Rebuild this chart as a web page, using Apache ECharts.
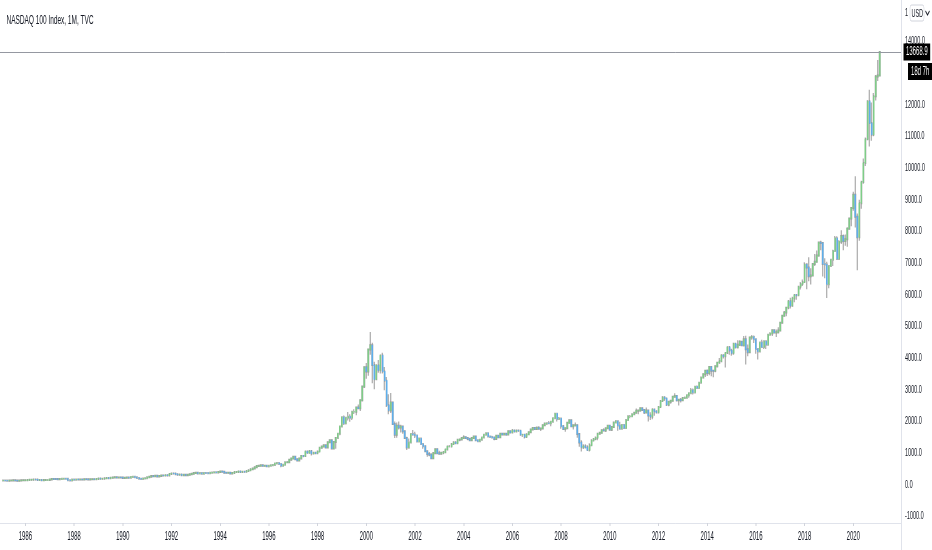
<!DOCTYPE html>
<html>
<head>
    <meta charset="utf-8">
    <title>NASDAQ 100 Index, 1M, TVC</title>
    <script src="https://cdn.jsdelivr.net/npm/echarts@6/dist/echarts.min.js"></script>
    <style>
        html, body { margin: 0; padding: 0; background: #fff; overflow: hidden; }
        /* the reference screenshot is squeezed horizontally, so draw wide and squeeze */
        #main { width: 1864px; height: 550px; transform: scaleX(0.5); transform-origin: 0 0; }
    </style>
</head>
<body>
    <div id="main"></div>
    <script type="text/javascript">
        var firstMonth = '1985-02';

        // monthly bars, one row per year (1985 starts in Feb, 2021 ends in Feb)
        var opens = [
            125, 127, 123, 122, 128, 129, 131, 127, 118, 124, 131,
            132, 133, 141, 147, 151, 157, 155, 141, 145, 133, 140, 141,
            141, 161, 176, 175, 172, 170, 172, 179, 185, 183, 137, 128,
            156, 151, 161, 158, 160, 156, 169, 164, 158, 165, 167, 164,
            177, 188, 183, 185, 194, 207, 199, 215, 224, 228, 218, 225,
            224, 207, 211, 221, 215, 240, 243, 230, 207, 185, 177, 192,
            201, 226, 248, 265, 263, 274, 256, 272, 286, 284, 295, 288,
            331, 349, 346, 323, 312, 315, 296, 306, 296, 307, 321, 343,
            360, 370, 349, 361, 341, 365, 363, 355, 372, 378, 388, 379,
            398, 412, 406, 375, 370, 372, 351, 366, 393, 394, 415, 399,
            404, 401, 429, 449, 484, 507, 546, 588, 590, 606, 590, 594,
            576, 595, 612, 618, 667, 680, 650, 590, 622, 700, 705, 780,
            821, 876, 798, 761, 825, 904, 898, 1040, 1000, 1055, 979, 1005,
            991, 1044, 1164, 1199, 1237, 1172, 1337, 1396, 1140, 1345, 1472, 1604,
            1836, 2128, 1932, 2106, 2142, 2109, 2296, 2296, 2436, 2407, 2660, 3095,
            3708, 3570, 4267, 4398, 3774, 3324, 3764, 3610, 4078, 3571, 3282, 2507,
            2342, 2593, 1908, 1574, 1855, 1800, 1831, 1684, 1469, 1169, 1330, 1596,
            1577, 1550, 1359, 1452, 1277, 1208, 1051, 963, 942, 832, 990, 1116,
            984, 974, 1005, 1018, 1106, 1201, 1201, 1279, 1332, 1303, 1416, 1425,
            1468, 1493, 1468, 1438, 1400, 1468, 1517, 1400, 1368, 1413, 1485, 1574,
            1621, 1519, 1503, 1483, 1441, 1542, 1494, 1605, 1581, 1601, 1579, 1682,
            1645, 1710, 1675, 1703, 1700, 1575, 1575, 1504, 1586, 1654, 1741, 1787,
            1757, 1790, 1758, 1772, 1875, 1926, 1934, 1932, 1986, 2092, 2239, 2069,
            2085, 1841, 1752, 1781, 1949, 2028, 1837, 1870, 1873, 1594, 1329, 1178,
            1212, 1175, 1087, 1237, 1394, 1441, 1477, 1606, 1632, 1718, 1707, 1774,
            1860, 1733, 1816, 1957, 2000, 1863, 1764, 1884, 1782, 2035, 2155, 2155,
            2218, 2265, 2331, 2338, 2409, 2356, 2273, 2339, 2179, 2143, 2370, 2315,
            2278, 2452, 2640, 2755, 2721, 2520, 2616, 2647, 2772, 2799, 2661, 2677,
            2661, 2731, 2738, 2819, 2887, 2981, 2910, 3091, 3049, 3218, 3378, 3487,
            3592, 3523, 3715, 3596, 3593, 3736, 3850, 3896, 4082, 4050, 4158, 4337,
            4236, 4151, 4450, 4334, 4415, 4509, 4397, 4589, 4274, 4182, 4648, 4664,
            4593, 4280, 4202, 4483, 4341, 4523, 4418, 4731, 4772, 4875, 4801, 4811,
            4864, 5114, 5330, 5436, 5584, 5788, 5647, 5880, 5988, 5979, 6248, 6337,
            6396, 6950, 6854, 6581, 6605, 6967, 7040, 7237, 7646, 7628, 6968, 6949,
            6330, 6906, 7099, 7378, 7781, 7127, 7672, 7848, 7692, 7750, 8084, 8403,
            8733, 9151, 8462, 7813, 8890, 9555, 10157, 10906, 12110, 11418, 11053, 12268,
            12888, 12925
        ];
        var highs = [
            129, 129, 125, 129, 131, 133, 133, 128, 125, 132, 135,
            137, 142, 149, 155, 158, 160, 156, 147, 147, 141, 144, 145,
            162, 178, 182, 180, 176, 175, 181, 188, 189, 187, 142, 158,
            160, 162, 166, 163, 162, 170, 171, 167, 166, 172, 169, 178,
            189, 191, 188, 195, 209, 210, 216, 227, 230, 232, 226, 231,
            226, 213, 224, 225, 241, 249, 248, 232, 209, 188, 194, 204,
            227, 252, 268, 275, 277, 276, 274, 288, 290, 300, 301, 333,
            357, 358, 350, 326, 322, 318, 310, 308, 310, 322, 344, 364,
            372, 375, 364, 362, 366, 370, 364, 373, 381, 393, 390, 400,
            413, 417, 409, 379, 376, 374, 369, 394, 401, 418, 418, 408,
            407, 430, 451, 485, 512, 550, 598, 599, 618, 610, 606, 605,
            598, 625, 630, 670, 690, 682, 654, 634, 702, 720, 783, 847,
            890, 880, 810, 830, 910, 920, 1045, 1050, 1075, 1080, 1025, 1030,
            1060, 1170, 1215, 1240, 1240, 1340, 1420, 1400, 1350, 1480, 1620, 1840,
            2150, 2180, 2140, 2290, 2220, 2300, 2380, 2440, 2530, 2665, 3100, 3710,
            3840, 4290, 4816, 4480, 3880, 3800, 3930, 4090, 4160, 3710, 3400, 2850,
            2890, 2600, 1990, 1960, 1990, 1890, 1860, 1700, 1510, 1450, 1600, 1720,
            1670, 1560, 1480, 1460, 1310, 1220, 1070, 1030, 985, 1025, 1125, 1130,
            1070, 1020, 1060, 1110, 1210, 1250, 1290, 1345, 1370, 1420, 1440, 1470,
            1560, 1510, 1480, 1480, 1480, 1520, 1520, 1410, 1430, 1490, 1580, 1630,
            1625, 1550, 1540, 1500, 1550, 1570, 1610, 1620, 1620, 1620, 1690, 1710,
            1750, 1720, 1720, 1740, 1710, 1600, 1580, 1590, 1660, 1750, 1790, 1820,
            1830, 1840, 1790, 1880, 1930, 1950, 2010, 1990, 2100, 2240, 2245, 2130,
            2090, 1880, 1800, 1960, 2050, 2040, 1900, 1960, 1880, 1600, 1400, 1270,
            1270, 1240, 1300, 1430, 1470, 1520, 1610, 1650, 1740, 1780, 1790, 1870,
            1890, 1830, 1960, 2040, 2030, 1980, 1890, 1910, 2040, 2170, 2200, 2220,
            2300, 2400, 2340, 2420, 2430, 2370, 2430, 2340, 2280, 2410, 2390, 2350,
            2460, 2650, 2790, 2790, 2740, 2630, 2680, 2780, 2880, 2810, 2700, 2730,
            2760, 2780, 2830, 2890, 3050, 3030, 3100, 3130, 3240, 3380, 3500, 3600,
            3630, 3720, 3740, 3620, 3740, 3860, 4000, 4090, 4110, 4170, 4340, 4380,
            4290, 4460, 4470, 4560, 4560, 4530, 4690, 4700, 4420, 4680, 4720, 4710,
            4600, 4300, 4490, 4570, 4530, 4550, 4740, 4810, 4900, 4890, 4900, 4970,
            5120, 5340, 5480, 5600, 5830, 5900, 5930, 6010, 6000, 6250, 6400, 6480,
            7020, 6990, 7180, 6830, 6980, 7280, 7390, 7650, 7700, 7660, 7150, 7040,
            6920, 7130, 7420, 7850, 7840, 7720, 8030, 7900, 7900, 8130, 8430, 8740,
            9250, 9740, 8560, 9000, 9600, 10300, 10960, 12140, 12470, 12070, 12370, 12940,
            13410, 13690
        ];
        var lows = [
            122, 122, 118, 119, 124, 126, 125, 116, 115, 121, 127,
            127, 131, 139, 144, 145, 150, 134, 137, 130, 131, 136, 136,
            140, 159, 169, 163, 164, 166, 169, 176, 175, 120, 124, 125,
            145, 149, 155, 153, 151, 155, 161, 155, 156, 163, 160, 163,
            175, 182, 178, 184, 193, 196, 198, 212, 221, 205, 214, 219,
            203, 202, 210, 211, 213, 234, 227, 202, 183, 168, 175, 189,
            196, 223, 244, 256, 260, 254, 254, 265, 276, 278, 281, 283,
            327, 338, 318, 300, 308, 290, 288, 294, 292, 296, 319, 338,
            354, 339, 343, 333, 337, 350, 346, 352, 363, 374, 369, 375,
            394, 400, 371, 354, 354, 349, 348, 363, 384, 386, 395, 390,
            391, 400, 425, 447, 475, 504, 542, 570, 581, 574, 582, 565,
            540, 590, 590, 600, 650, 640, 546, 585, 610, 675, 700, 778,
            810, 785, 740, 735, 820, 860, 890, 990, 990, 920, 950, 960,
            960, 1040, 1140, 1180, 1160, 1140, 1320, 1110, 1120, 1130, 1450, 1560,
            1800, 1880, 1900, 2020, 1980, 2040, 2230, 2190, 2380, 2320, 2620, 3050,
            3340, 3440, 4100, 3200, 3010, 3300, 3530, 3510, 3510, 2980, 2450, 2220,
            2260, 1900, 1470, 1480, 1740, 1640, 1600, 1450, 1090, 1130, 1310, 1540,
            1470, 1340, 1350, 1270, 1130, 1030, 880, 890, 830, 795, 980, 955,
            960, 950, 960, 1010, 1100, 1170, 1190, 1250, 1290, 1300, 1370, 1400,
            1450, 1450, 1400, 1400, 1380, 1440, 1390, 1340, 1360, 1390, 1470, 1560,
            1500, 1490, 1460, 1400, 1430, 1490, 1490, 1560, 1560, 1540, 1570, 1640,
            1640, 1650, 1660, 1680, 1550, 1500, 1450, 1490, 1570, 1640, 1730, 1730,
            1750, 1740, 1690, 1760, 1860, 1880, 1910, 1840, 1950, 2090, 1990, 2040,
            1760, 1740, 1670, 1760, 1920, 1830, 1740, 1830, 1480, 1190, 1040, 1120,
            1140, 1080, 1040, 1220, 1370, 1400, 1400, 1580, 1600, 1680, 1660, 1760,
            1730, 1690, 1810, 1940, 1700, 1760, 1760, 1760, 1770, 2030, 2090, 2150,
            2210, 2260, 2220, 2300, 2330, 2230, 2270, 1990, 2040, 2060, 2170, 2240,
            2270, 2440, 2610, 2640, 2480, 2470, 2550, 2640, 2760, 2620, 2500, 2590,
            2655, 2700, 2730, 2740, 2870, 2840, 2900, 3040, 3040, 3200, 3360, 3400,
            3430, 3450, 3420, 3390, 3550, 3700, 3840, 3880, 3980, 3700, 4120, 4100,
            4070, 4100, 4300, 4300, 4380, 4390, 4360, 3790, 4050, 4170, 4570, 4470,
            4130, 3950, 4200, 4320, 4280, 4280, 4400, 4720, 4690, 4780, 4660, 4770,
            4860, 5080, 5310, 5320, 5540, 5560, 5630, 5760, 5840, 5970, 6160, 6270,
            6380, 6170, 6420, 6320, 6570, 6900, 7010, 7200, 7400, 6570, 6520, 5896,
            6200, 6900, 6900, 7360, 7120, 7100, 7600, 7400, 7540, 7510, 8080, 8160,
            8650, 8120, 6771, 7700, 8710, 9500, 10060, 10880, 10680, 10860, 11000, 12130,
            12750, 12900
        ];
        var closes = [
            127, 123, 122, 128, 129, 131, 127, 118, 124, 131, 132,
            133, 141, 147, 151, 157, 155, 141, 145, 133, 140, 141, 141,
            161, 176, 175, 172, 170, 172, 179, 185, 183, 137, 128, 156,
            151, 161, 158, 160, 156, 169, 164, 158, 165, 167, 164, 177,
            188, 183, 185, 194, 207, 199, 215, 224, 228, 218, 225, 224,
            207, 211, 221, 215, 240, 243, 230, 207, 185, 177, 192, 201,
            226, 248, 265, 263, 274, 256, 272, 286, 284, 295, 288, 331,
            349, 346, 323, 312, 315, 296, 306, 296, 307, 321, 343, 360,
            370, 349, 361, 341, 365, 363, 355, 372, 378, 388, 379, 398,
            412, 406, 375, 370, 372, 351, 366, 393, 394, 415, 399, 404,
            401, 429, 449, 484, 507, 546, 588, 590, 606, 590, 594, 576,
            595, 612, 618, 667, 680, 650, 590, 622, 700, 705, 780, 821,
            876, 798, 761, 825, 904, 898, 1040, 1000, 1055, 979, 1005, 991,
            1044, 1164, 1199, 1237, 1172, 1337, 1396, 1140, 1345, 1472, 1604, 1836,
            2128, 1932, 2106, 2142, 2109, 2296, 2296, 2436, 2407, 2660, 3095, 3708,
            3570, 4267, 4398, 3774, 3324, 3764, 3610, 4078, 3571, 3282, 2507, 2342,
            2593, 1908, 1574, 1855, 1800, 1831, 1684, 1469, 1169, 1330, 1596, 1577,
            1550, 1359, 1452, 1277, 1208, 1051, 963, 942, 832, 990, 1116, 984,
            974, 1005, 1018, 1106, 1201, 1201, 1279, 1332, 1303, 1416, 1425, 1468,
            1493, 1468, 1438, 1400, 1468, 1517, 1400, 1368, 1413, 1485, 1574, 1621,
            1519, 1503, 1483, 1441, 1542, 1494, 1605, 1581, 1601, 1579, 1682, 1645,
            1710, 1675, 1703, 1700, 1575, 1575, 1504, 1586, 1654, 1741, 1787, 1757,
            1790, 1758, 1772, 1875, 1926, 1934, 1932, 1986, 2092, 2239, 2069, 2085,
            1841, 1752, 1781, 1949, 2028, 1837, 1870, 1873, 1594, 1329, 1178, 1212,
            1175, 1087, 1237, 1394, 1441, 1477, 1606, 1632, 1718, 1707, 1774, 1860,
            1733, 1816, 1957, 2000, 1863, 1764, 1884, 1782, 2035, 2155, 2155, 2218,
            2265, 2331, 2338, 2409, 2356, 2273, 2339, 2179, 2143, 2370, 2315, 2278,
            2452, 2640, 2755, 2721, 2520, 2616, 2647, 2772, 2799, 2661, 2677, 2661,
            2731, 2738, 2819, 2887, 2981, 2910, 3091, 3049, 3218, 3378, 3487, 3592,
            3523, 3715, 3596, 3593, 3736, 3850, 3896, 4082, 4050, 4158, 4337, 4236,
            4151, 4450, 4334, 4415, 4509, 4397, 4589, 4274, 4182, 4648, 4664, 4593,
            4280, 4202, 4483, 4341, 4523, 4418, 4731, 4772, 4875, 4801, 4811, 4864,
            5114, 5330, 5436, 5584, 5788, 5647, 5880, 5988, 5979, 6248, 6337, 6396,
            6950, 6854, 6581, 6605, 6967, 7040, 7237, 7646, 7628, 6968, 6949, 6330,
            6906, 7099, 7378, 7781, 7127, 7672, 7848, 7692, 7750, 8084, 8403, 8733,
            9151, 8462, 7813, 8890, 9555, 10157, 10906, 12110, 11418, 11053, 12268, 12888,
            12925, 13669
        ];
        var yTicks = [-1000, 0, 1000, 2000, 3000, 4000, 5000, 6000, 7000, 8000,
            9000, 10000, 11000, 12000, 14000];
        var lastPrice = 13668.9;
        var timeLeft = '18d 7h';

        var upColor = '#7fcc88';
        var downColor = '#5eaeea';
        var wickColor = '#9a9a9a';

        // month slots Jan 1985 .. Dec 2021
        var months = [];
        for (var y = 1985; y <= 2021; y++) {
            for (var m = 1; m <= 12; m++) {
                months.push(y + '-' + (m < 10 ? '0' + m : m));
            }
        }
        var start = months.indexOf(firstMonth);

        var wickRows = closes.map(function (c, i) {
            return [months[start + i], opens[i], c, lows[i], highs[i]];
        });
        var bodyRows = closes.map(function (c, i) {
            return [months[start + i], opens[i], c, Math.min(opens[i], c), Math.max(opens[i], c)];
        });

        function isYearMark(index, value) {
            return value.slice(5) === '01' && (+value.slice(0, 4)) % 2 === 0;
        }

        var myChart = echarts.init(document.getElementById('main'));

        var option = {
            animation: false,
            backgroundColor: '#ffffff',
            title: {
                text: 'NASDAQ 100 Index, 1M, TVC',
                left: 8,
                top: 9,
                textStyle: {
                    fontFamily: 'Liberation Sans',
                    fontSize: 13,
                    fontWeight: 'normal',
                    color: '#131722'
                }
            },
            grid: {
                left: 0,
                right: 62,
                top: 0,
                bottom: 27
            },
            xAxis: {
                type: 'category',
                data: months,
                boundaryGap: true,
                axisLine: { onZero: false, lineStyle: { color: '#e0e3eb', width: 1 } },
                axisTick: {
                    show: true,
                    alignWithLabel: true,
                    interval: isYearMark,
                    length: 3,
                    lineStyle: { color: '#d1d4dc', width: 2 }
                },
                axisLabel: {
                    interval: isYearMark,
                    formatter: function (v) { return v.slice(0, 4); },
                    color: '#131722',
                    fontFamily: 'Liberation Sans',
                    fontSize: 12,
                    margin: 8
                },
                splitLine: { show: false }
            },
            yAxis: {
                type: 'value',
                position: 'right',
                min: -1216,
                max: 15308,
                scale: true,
                splitLine: { show: false },
                axisLine: { show: false },
                axisTick: { show: false },
                axisLabel: {
                    customValues: yTicks,
                    formatter: function (v) { return v.toFixed(1); },
                    color: '#131722',
                    fontFamily: 'Liberation Sans',
                    fontSize: 11,
                    margin: 8
                }
            },
            series: [{
                type: 'candlestick',
                name: 'range',
                encode: { x: 0, y: [1, 2, 3, 4] },
                data: wickRows,
                barWidth: 2,
                silent: true,
                itemStyle: {
                    color: wickColor,
                    color0: wickColor,
                    borderColor: wickColor,
                    borderColor0: wickColor,
                    borderColorDoji: wickColor,
                    borderWidth: 2
                }
            }, {
                type: 'candlestick',
                name: 'body',
                encode: { x: 0, y: [1, 2, 3, 4] },
                data: bodyRows,
                barWidth: 2.5,
                z: 3,
                silent: true,
                itemStyle: {
                    color: upColor,
                    color0: downColor,
                    borderColor: upColor,
                    borderColor0: downColor,
                    borderColorDoji: upColor,
                    borderWidth: 1
                },
                markLine: {
                    silent: true,
                    symbol: 'none',
                    lineStyle: { color: '#9598a1', type: 'solid', width: 1 },
                    label: {
                        position: 'end',
                        distance: 5,
                        formatter: lastPrice.toFixed(1),
                        backgroundColor: '#000000',
                        color: '#ffffff',
                        fontFamily: 'Liberation Sans',
                        fontSize: 12,
                        padding: [3, 5, 2, 5]
                    },
                    data: [{ yAxis: lastPrice }]
                }
            }],
            graphic: [{
                type: 'line',
                z: 50,
                silent: true,
                shape: { x1: 1803, y1: 0, x2: 1803, y2: 550 },
                style: { stroke: '#e0e3eb', lineWidth: 2 }
            }, {
                type: 'text',
                z: 60,
                left: 1816,
                top: 63,
                silent: true,
                style: {
                    text: timeLeft,
                    fill: '#ffffff',
                    backgroundColor: '#000000',
                    padding: [3, 8, 2, 6],
                    font: '12px "Liberation Sans"'
                }
            }, {
                type: 'text',
                z: 60,
                left: 1810,
                top: 7,
                silent: true,
                style: {
                    text: '1',
                    fill: '#131722',
                    font: '11px "Liberation Sans"'
                }
            }, {
                type: 'rect',
                z: 60,
                silent: true,
                shape: { x: 1820, y: 5, width: 28, height: 16, r: 3 },
                style: { fill: '#ffffff', stroke: '#d1d4dc', lineWidth: 1 }
            }, {
                type: 'text',
                z: 61,
                left: 1823,
                top: 8,
                silent: true,
                style: {
                    text: 'USD',
                    fill: '#131722',
                    font: '11px "Liberation Sans"'
                }
            }, {
                type: 'polyline',
                z: 60,
                silent: true,
                shape: { points: [[1851, 11], [1855, 15], [1859, 11]] },
                style: { stroke: '#131722', lineWidth: 1.5, fill: null }
            }]
        };

        myChart.setOption(option);
    </script>
</body>
</html>
